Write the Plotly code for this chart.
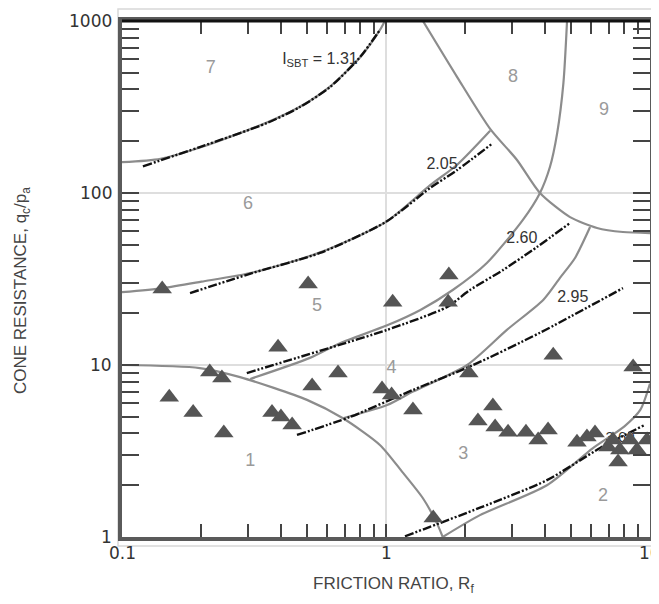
import math
import plotly.graph_objects as go

# ---------------- data ----------------
# triangle data points: friction ratio Rf (%) and normalized cone resistance qc/pa
pts_rf = [0.142, 0.507, 0.390, 0.215, 0.239, 0.151, 0.186, 0.243, 0.370, 0.400,
          0.441, 0.525, 0.658, 0.966, 1.05, 1.265, 1.06, 1.73, 1.72, 2.06,
          2.23, 2.54, 2.59, 2.90, 3.39, 3.77, 4.11, 4.30, 8.63, 5.29,
          5.77, 6.19, 6.93, 7.24, 7.69, 7.57, 8.40, 8.93, 9.75, 1.51]
pts_q = [27.7, 29.6, 12.7, 9.1, 8.4, 6.5, 5.3, 4.03, 5.3, 4.99,
         4.48, 7.55, 8.98, 7.24, 6.7, 5.47, 23.2, 33.4, 23.2, 8.98,
         4.72, 5.78, 4.36, 4.07, 4.07, 3.66, 4.19, 11.4, 9.73, 3.56,
         3.81, 4.03, 3.34, 3.66, 3.21, 2.73, 3.66, 3.21, 3.66, 1.29]

# zone boundaries (solid gray)
b76_rf = [0.1, 0.14, 0.2, 0.35, 0.47, 0.61, 0.8, 0.95, 0.99]
b76_q = [151, 158, 185, 255, 316, 413, 618, 890, 1000]
b65_rf = [0.1, 0.143, 0.2, 0.313, 0.56, 1.0, 1.47, 1.86, 2.48]
b65_q = [26.5, 28, 30.5, 34.5, 45, 68, 111, 146, 230]
b8_rf = [1.38, 1.86, 2.48, 3.13, 3.83, 4.98, 6.30, 7.90, 10]
b8_q = [1000, 472, 236, 156, 100, 72.4, 62.6, 59.3, 58.5]
b54_rf = [4.85, 4.70, 4.45, 4.18, 3.83, 3.30, 2.41, 1.79, 1.35, 1.01, 0.67, 0.515, 0.306]
b54_q = [1000, 437, 223, 142, 100, 69.7, 39.2, 27.3, 20.9, 17.0, 13.4, 11.0, 8.3]
b43_rf = [0.687, 1.01, 1.265, 2.03, 2.87, 3.94, 4.56, 5.20, 5.93]
b43_q = [4.9, 5.85, 7.0, 10, 16, 23.9, 32.1, 41.9, 63.4]
b1_rf = [0.1, 0.197, 0.28, 0.502, 0.687, 0.948, 1.15, 1.38, 1.56, 1.64]
b1_q = [10, 9.6, 8.5, 6.27, 4.9, 3.43, 2.4, 1.68, 1.2, 1.0]
b32_rf = [1.64, 2.27, 4.07, 6.08, 8.0, 9.2, 10]
b32_q = [1.0, 1.34, 2.0, 3.29, 4.4, 5.5, 7.8]

# I_SBT contours (dash-dot-dot black)
i131_rf = [0.120, 0.197, 0.354, 0.472, 0.614, 0.798, 0.948]
i131_q = [143, 185, 255, 316, 413, 618, 887]
i205_rf = [0.181, 0.313, 0.562, 1.0, 1.47, 1.86, 2.54]
i205_q = [26.2, 34.3, 44.8, 68, 107, 136, 195]
i260_rf = [0.297, 0.614, 1.01, 1.70, 2.08, 2.77, 3.73, 4.98]
i260_q = [8.98, 12.6, 16.0, 21.7, 27.3, 35.6, 48.5, 67]
i295_rf = [0.46, 0.731, 1.265, 2.14, 3.83, 7.9]
i295_q = [3.92, 4.99, 7.16, 10, 15.4, 28]
i360_rf = [1.18, 2.27, 4.07, 6.47, 9.6]
i360_q = [1.01, 1.48, 2.14, 3.29, 4.5]

# zone numbers
zone_txt = ["1", "2", "3", "4", "5", "6", "7", "8", "9"]
zone_rf = [0.306, 6.64, 1.96, 1.05, 0.548, 0.300, 0.217, 3.03, 6.7]
zone_q = [2.73, 1.71, 3.0, 9.5, 22, 86, 533, 472, 300]

# contour labels
clab_txt = ["2.05", "2.60", "2.95"]
clab_rf = [1.63, 3.27, 5.1]
clab_q = [146, 54, 24.5]

x_ticks = [0.1, 1, 10]
x_ticktext = ["0.1", "1", "10"]
y_ticks = [1, 10, 100, 1000]
y_ticktext = ["1", "10", "100", "1000"]

# ---------------- figure ----------------
GRAY = "#8c8c8c"
DASH = "9px,2px,2px,2px,2px,2px"
fig = go.Figure()

for rf, q in [(b76_rf, b76_q), (b65_rf, b65_q), (b8_rf, b8_q), (b54_rf, b54_q),
              (b43_rf, b43_q), (b1_rf, b1_q), (b32_rf, b32_q)]:
    fig.add_trace(go.Scatter(x=rf, y=q, mode="lines",
                             line=dict(color=GRAY, width=2.2, shape="spline", smoothing=0.7),
                             hoverinfo="skip", showlegend=False))

for rf, q in [(i131_rf, i131_q), (i205_rf, i205_q), (i260_rf, i260_q),
              (i295_rf, i295_q), (i360_rf, i360_q)]:
    fig.add_trace(go.Scatter(x=rf, y=q, mode="lines",
                             line=dict(color="#111", width=2.4, dash=DASH, shape="spline", smoothing=0.7),
                             hoverinfo="skip", showlegend=False))

# partially hidden label under the markers
fig.add_trace(go.Scatter(x=[7.7], y=[3.75], mode="text", text=["3.60"],
                         textfont=dict(family="Liberation Sans", size=15, color="#333"),
                         showlegend=False, hoverinfo="skip"))

fig.add_trace(go.Scatter(x=pts_rf, y=pts_q, mode="markers",
                         marker=dict(symbol="triangle-up", size=17, color="#555555", line=dict(width=0)),
                         showlegend=False))

# zone numbers
fig.add_trace(go.Scatter(x=zone_rf, y=zone_q, mode="text", text=zone_txt,
                         textfont=dict(family="Liberation Sans", size=18, color="#9a9a9a"),
                         showlegend=False, hoverinfo="skip"))
fig.add_trace(go.Scatter(x=clab_rf, y=clab_q, mode="text", text=clab_txt,
                         textfont=dict(family="Liberation Sans", size=16, color="#333"),
                         showlegend=False, hoverinfo="skip"))
fig.add_trace(go.Scatter(x=[0.562], y=[593], mode="text", text=["I<sub>SBT</sub> = 1.31"],
                         textfont=dict(family="Liberation Sans", size=16, color="#333"),
                         showlegend=False, hoverinfo="skip"))

axis_common = dict(type="log", showline=True, linecolor="#5a5a5a", linewidth=3.5,
                   mirror="allticks", ticks="inside", tickcolor="#444", tickwidth=2,
                   showgrid=True, gridcolor="#dedede", gridwidth=1.5, zeroline=False,
                   showticklabels=False, automargin=False)

fig.update_xaxes(**axis_common, range=[-1, 1], tickvals=x_ticks, ticklen=13,
                 minor=dict(ticks="inside", ticklen=13, tickcolor="#444", tickwidth=2, dtick="D1", showgrid=False))
fig.update_yaxes(**axis_common, range=[0, 3], tickvals=y_ticks, ticklen=17,
                 minor=dict(ticks="inside", ticklen=17, tickcolor="#444", tickwidth=2, dtick="D1", showgrid=False))

# the page body has an 8px default margin, so the figure is offset by 8px
OFF = 8
W, H = 651, 596
L, R, T, B = 114, 9, 13, 67
pw, ph = W - L - R, H - T - B

def px(xp):
    return (xp - OFF - L) / pw

def py(yp):
    return (H - B - (yp - OFF)) / ph

shapes = [
    dict(type="rect", xref="paper", yref="paper", x0=px(118), x1=px(657), y0=py(546), y1=py(9),
         line=dict(color="#d8d8d8", width=1.5), layer="below"),
    dict(type="line", xref="paper", yref="paper", x0=0, x1=1, y0=1, y1=1,
         line=dict(color="#111", width=3)),
]

tickfont = dict(family="DejaVu Sans", size=17, color="#333")
annotations = []
for v, t in zip(x_ticks, x_ticktext):
    annotations.append(dict(text=t, x=math.log10(v), xref="x", y=py(553), yref="paper", xanchor="center",
                            yanchor="middle", showarrow=False, font=tickfont))
for v, t in zip(y_ticks, y_ticktext):
    annotations.append(dict(text=t, x=px(114), xref="paper", y=math.log10(v), yref="y", xanchor="right",
                            yanchor="middle", showarrow=False, font=tickfont))

annotations += [
    dict(text="FRICTION RATIO, R<sub>f</sub>", xref="paper", yref="paper", x=px(393), y=py(585),
         xanchor="center", yanchor="middle",
         showarrow=False, font=dict(family="Liberation Sans", size=17, color="#444")),
    dict(text="CONE RESISTANCE, q<sub>c</sub>/p<sub>a</sub>", xref="paper", yref="paper", x=px(22), y=py(291),
         xanchor="center", yanchor="middle",
         textangle=-90, showarrow=False, font=dict(family="Liberation Sans", size=17, color="#444")),
]

fig.update_layout(width=W, height=H, margin=dict(l=L, r=R, t=T, b=B, pad=0, autoexpand=False),
                  plot_bgcolor="white", paper_bgcolor="white",
                  shapes=shapes, annotations=annotations, showlegend=False)

fig.write_html("out.html")
